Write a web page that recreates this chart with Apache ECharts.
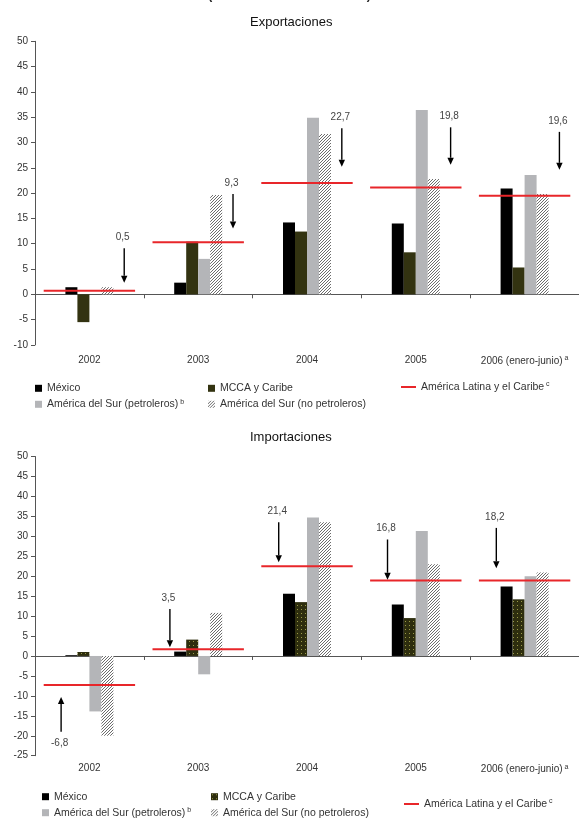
<!DOCTYPE html>
<html><head><meta charset="utf-8">
<script src="https://cdn.jsdelivr.net/npm/echarts@6/dist/echarts.min.js"></script>
<style>html,body{margin:0;padding:0;background:#fff}#c{width:579px;height:819px}</style>
</head><body><div id="c"></div>
<script>
// ---------- data ----------
const categories = ['2002', '2003', '2004', '2005', '2006 (enero-junio)'];
const seriesNames = ['México', 'MCCA y Caribe', 'América del Sur (petroleros)', 'América del Sur (no petroleros)'];
const lineName = 'América Latina y el Caribe';

const expMexico = [1.4, 2.3, 14.2, 14.0, 20.9];
const expMCCA = [-5.5, 10.4, 12.4, 8.3, 5.3];
const expSurPetro = [0, 7.0, 34.9, 36.4, 23.6];
const expSurNoPetro = [1.4, 19.6, 31.7, 22.8, 19.8];
const expAmLat = [0.7, 10.3, 22.0, 21.1, 19.5];
const expNoteLabels = ['0,5', '9,3', '22,7', '19,8', '19,6'];
const expArrowFrom = [9.1, 19.8, 32.8, 33.0, 32.1];
const expArrowTo = [2.3, 13.0, 25.2, 25.6, 24.6];

const impMexico = [0.2, 1.1, 15.6, 12.9, 17.4];
const impMCCA = [1.0, 4.1, 13.5, 9.5, 14.2];
const impSurPetro = [-13.9, -4.6, 34.7, 31.3, 20.0];
const impSurNoPetro = [-20.0, 10.8, 33.5, 23.0, 20.9];
const impAmLat = [-7.3, 1.7, 22.5, 18.9, 18.9];
const impNoteLabels = ['-6,8', '3,5', '21,4', '16,8', '18,2'];
const impArrowFrom = [-19.0, 11.8, 33.5, 29.2, 32.1];
const impArrowTo = [-10.3, 2.2, 23.5, 19.1, 22.0];

const expAxis = { min: -10, max: 50, interval: 5 };
const impAxis = { min: -25, max: 50, interval: 5 };

// ---------- styles ----------
const FONT = 'Liberation Sans, Arial, sans-serif';
const RED = '#e8262a';
function hatchPattern() {
  const c = document.createElement('canvas'); c.width = 3; c.height = 3;
  const g = c.getContext('2d');
  g.fillStyle = '#ffffff'; g.fillRect(0, 0, 3, 3);
  g.fillStyle = '#6c6c6c';
  for (let x = 0; x < 3; x++) for (let y = 0; y < 3; y++) if ((x + y) % 3 === 2) g.fillRect(x, y, 1, 1);
  return { image: c, repeat: 'repeat' };
}
function dotPattern() {
  const c = document.createElement('canvas'); c.width = 4; c.height = 4;
  const g = c.getContext('2d');
  g.fillStyle = '#2e2e0e'; g.fillRect(0, 0, 4, 4);
  g.fillStyle = '#9a9a48'; g.fillRect(1, 1, 1, 1);
  return { image: c, repeat: 'repeat' };
}
const HATCH = hatchPattern();
const DOTS = dotPattern();
const colorsExp = ['#000000', '#333311', '#b4b5b8', HATCH];
const colorsImp = ['#000000', DOTS, '#b4b5b8', HATCH];

function bars(valsList, colors, gi) {
  return valsList.map((vals, k) => ({
    type: 'bar', name: seriesNames[k], xAxisIndex: gi * 2, yAxisIndex: gi,
    data: vals, barWidth: 12, barGap: '0%', itemStyle: { color: colors[k] }, z: 2
  }));
}
function redLines(vals, gi) {
  return {
    type: 'custom', name: lineName, xAxisIndex: gi * 2, yAxisIndex: gi, z: 5, silent: true,
    itemStyle: { color: RED },
    data: vals.map((v, i) => [i, v]), encode: { x: 0, y: 1 },
    renderItem(params, api) {
      const p = api.coord([api.value(0), api.value(1)]);
      const half = api.size([1, 0])[0] * 0.42;
      return { type: 'line', shape: { x1: p[0] - half, y1: p[1], x2: p[0] + half, y2: p[1] },
        style: { stroke: RED, lineWidth: 2 } };
    }
  };
}
function arrows(fromArr, toArr, labels, offsetFrac, gi) {
  return {
    type: 'custom', xAxisIndex: gi * 2, yAxisIndex: gi, z: 6, silent: true,
    data: fromArr.map((v, i) => [i, v, toArr[i]]), encode: { x: 0, y: [1, 2] },
    renderItem(params, api) {
      const i = api.value(0);
      const band = api.size([1, 0])[0];
      const a = api.coord([i, api.value(1)]);
      const b = api.coord([i, api.value(2)]);
      const x = a[0] + band * offsetFrac;
      const dir = b[1] > a[1] ? 1 : -1;
      const head = 7, hw = 3.2;
      return { type: 'group', children: [
        { type: 'line', shape: { x1: x, y1: a[1], x2: x, y2: b[1] - dir * head }, style: { stroke: '#000', lineWidth: 1.4 } },
        { type: 'polygon', shape: { points: [[x - hw, b[1] - dir * head], [x + hw, b[1] - dir * head], [x, b[1]]] }, style: { fill: '#000' } },
        { type: 'text', style: { text: labels[params.dataIndex], x: x - 1.5, y: a[1] - dir * 11, align: 'center', verticalAlign: 'middle', fontSize: 10, fontFamily: FONT, fill: '#444' } }
      ] };
    }
  };
}

function xAxesFor(gi, margin) {
  return [
    { type: 'category', gridIndex: gi, data: categories,
      axisLine: { onZero: true, lineStyle: { color: '#555', width: 1 } },
      axisTick: { show: true, interval: 0, length: 4, lineStyle: { color: '#555' } },
      axisLabel: { show: false, interval: 0 } },
    { type: 'category', gridIndex: gi, data: categories, position: 'bottom',
      axisLine: { show: false, onZero: false }, axisTick: { show: false },
      axisLabel: { margin: margin, interval: 0, color: '#333', fontSize: 10, fontFamily: FONT,
        formatter: (v, i) => i === 4 ? '{t|' + v + '}{s| a}' : '{t|' + v + '}',
        rich: { t: { fontSize: 10, fontFamily: FONT, color: '#333' },
                s: { fontSize: 7, fontFamily: FONT, color: '#333', verticalAlign: 'top', padding: [0, 0, 5, 0] } } } }
  ];
}
function yAxisFor(gi, ax) {
  return { type: 'value', gridIndex: gi, min: ax.min, max: ax.max, interval: ax.interval,
    axisLine: { show: true, lineStyle: { color: '#555' } },
    axisTick: { show: true, length: 4, lineStyle: { color: '#555' } },
    splitLine: { show: false },
    axisLabel: { fontSize: 10, color: '#333', fontFamily: FONT, margin: 7 } };
}
const legendText = { fontSize: 10.5, color: '#333', fontFamily: FONT, lineHeight: 12,
  rich: { t: { fontSize: 10.5, color: '#333', fontFamily: FONT }, s: { fontSize: 7, color: '#333', fontFamily: FONT, verticalAlign: 'top', padding: [0, 0, 5, 0] } } };
function legendFmt(name) {
  if (name === 'América del Sur (petroleros)') return '{t|' + name + '}{s| b}';
  if (name === lineName) return '{t|' + name + '}{s| c}';
  return '{t|' + name + '}';
}
function legendsFor(top, xs, redTop, mccaColor) {
  const base = { orient: 'vertical', padding: 0, itemGap: 4, itemWidth: 7, itemHeight: 7, icon: 'rect',
    textStyle: legendText, formatter: legendFmt, selectedMode: false };
  return [
    Object.assign({}, base, { left: xs[0], top: top, data: [seriesNames[0], seriesNames[2]] }),
    Object.assign({}, base, { left: xs[1], top: top, data: [{ name: seriesNames[1], itemStyle: { color: mccaColor } }, seriesNames[3]] }),
    Object.assign({}, base, { left: xs[2], top: redTop, itemWidth: 15, itemHeight: 2, data: [{ name: lineName, icon: 'rect', itemStyle: { color: RED } }] })
  ];
}

const option = {
  backgroundColor: '#fff',
  animation: false,
  textStyle: { fontFamily: FONT },
  graphic: [
    { type: 'text', left: 'center', top: -10, style: { text: '(Tasas anuales de variación)', fontSize: 12, fontWeight: 'bold', fill: '#222', fontFamily: FONT } },
    { type: 'text', left: 250, top: 16, style: { text: 'Exportaciones', fontSize: 13, fill: '#111', fontFamily: FONT } },
    { type: 'text', left: 250, top: 431, style: { text: 'Importaciones', fontSize: 13, fill: '#111', fontFamily: FONT } }
  ],
  grid: [
    { left: 35, top: 41.3, width: 545, height: 303.6 },
    { left: 35, top: 456.5, width: 545, height: 299.2 }
  ],
  xAxis: [...xAxesFor(0, 10), ...xAxesFor(1, 8)],
  yAxis: [yAxisFor(0, expAxis), yAxisFor(1, impAxis)],
  legend: [...legendsFor(382.3, [35, 208, 401], 381, '#333311'), ...legendsFor(790.7, [42, 211, 404], 798, DOTS)],
  series: [
    ...bars([expMexico, expMCCA, expSurPetro, expSurNoPetro], colorsExp, 0),
    redLines(expAmLat, 0),
    arrows(expArrowFrom, expArrowTo, expNoteLabels, 0.32, 0),
    ...bars([impMexico, impMCCA, impSurPetro, impSurNoPetro], colorsImp, 1),
    redLines(impAmLat, 1),
    arrows(impArrowFrom, impArrowTo, impNoteLabels, -0.26, 1)
  ]
};
const chart = echarts.init(document.getElementById('c'), null, { renderer: 'canvas' });
chart.setOption(option);
</script>
</body></html>
